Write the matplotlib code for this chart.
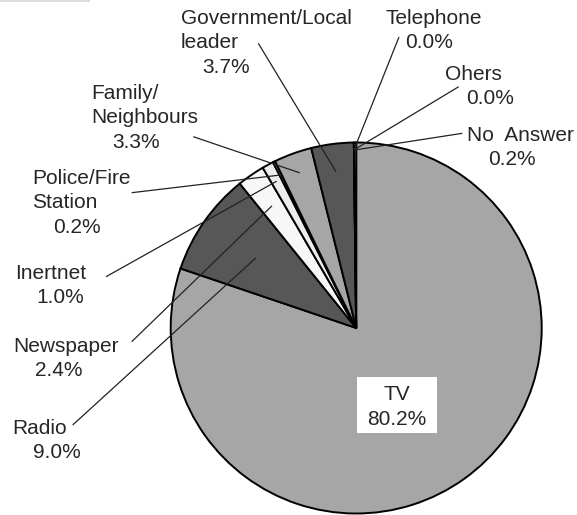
import matplotlib
matplotlib.use('Agg')
import matplotlib.pyplot as plt
from matplotlib.patches import Rectangle
import numpy as np

plt.rcParams['font.family'] = ['Liberation Sans', 'DejaVu Sans']

# shares of respondents by information source (%), clockwise from 12 o'clock
sources = ['TV', 'Radio', 'Newspaper', 'Inertnet', 'Police/Fire\nStation',
           'Family/\nNeighbours', 'Government/Local\nleader', 'Telephone',
           'Ohers', 'No  Answer']
shares = [80.2, 9.0, 2.4, 1.0, 0.2, 3.3, 3.7, 0.0, 0.0, 0.2]

colors = ['#a6a6a6', '#575757', '#f7f7f7', '#ececec', '#ffffff',
          '#a6a6a6', '#575757', '#a6a6a6', '#a6a6a6', '#a6a6a6']

W, H = 577, 515
CX, CY, R = 356.2, 328.0, 185.5   # pie centre / radius in pixels

def to_data(px, py):
    return (px - CX) / R, (CY - py) / R

# label layout (pixels): left x of each line, first baseline, leader start, leader end radius
label_layout = {
    'Radio':       dict(xs=[12.7, 33.3],         y0=434, start=(72.7, 425.0), rf=0.66),
    'Newspaper':   dict(xs=[13.3, 35.0],         y0=352, start=(131.7, 341.7), rf=0.80),
    'Inertnet':    dict(xs=[15.0, 36.7],         y0=279, start=(106.0, 276.7), rf=0.90),
    'Police/Fire\nStation':
                   dict(xs=[32.0, 32.0, 53.2],   y0=184, start=(131.7, 192.7), rf=0.92),
    'Family/\nNeighbours':
                   dict(xs=[91.4, 91.4, 112.3],  y0=99,  start=(193.3, 136.7), rf=0.89),
    'Government/Local\nleader':
                   dict(xs=[180.5, 180.5, 202.0], y0=24, start=(258.3, 43.3), rf=0.85),
    'Telephone':   dict(xs=[385.0, 405.0],       y0=24,  start=(399.0, 37.0), rf=0.96),
    'Ohers':       dict(xs=[445.0, 466.0],       y0=80,  start=(458.7, 86.7), rf=0.96),
    'No  Answer':  dict(xs=[467.0, 488.0],       y0=141, start=(462.4, 133.3), rf=0.96),
}
LINE_STEP = 24.3
text_color = '#262626'

fig = plt.figure(figsize=(W / 100, H / 100), dpi=100)
ax = fig.add_axes([(CX - R) / W, 1 - (CY + R) / H, 2 * R / W, 2 * R / H])

wedges, _ = ax.pie(shares, colors=colors, startangle=90, counterclock=False,
                   wedgeprops=dict(edgecolor='black', linewidth=1.4))
ax.set_xlim(-1, 1)
ax.set_ylim(-1, 1)
ax.set_aspect('auto')
ax.axis('off')

for name, val, w in zip(sources, shares, wedges):
    if name not in label_layout:
        continue
    lay = label_layout[name]
    lines = name.split('\n') + [f'{val:.1f}%']
    for i, (txt, x) in enumerate(zip(lines, lay['xs'])):
        tx, ty = to_data(x, lay['y0'] + i * LINE_STEP)
        ax.text(tx, ty, txt, ha='left', va='baseline', fontsize=15,
                color=text_color, clip_on=False)
    mid = np.deg2rad((w.theta1 + w.theta2) / 2)
    ex, ey = lay['rf'] * np.cos(mid), lay['rf'] * np.sin(mid)
    sx, sy = to_data(*lay['start'])
    ax.plot([sx, ex], [sy, ey], color='#222222', lw=0.9, clip_on=False,
            solid_capstyle='butt')

# TV label in a white box
bx0, by0 = to_data(356.7, 433.3)
bx1, by1 = to_data(437.0, 376.7)
ax.add_patch(Rectangle((bx0, by0), bx1 - bx0, by1 - by0, facecolor='white',
                       edgecolor='none', zorder=3))
for i, txt in enumerate([sources[0], f'{shares[0]:.1f}%']):
    tx, ty = to_data(397.0, 400.5 + i * LINE_STEP)
    ax.text(tx, ty, txt, ha='center', va='baseline', fontsize=15,
            color=text_color, zorder=4)

fig.add_artist(Rectangle((0, 1 - 2 / H), 90 / W, 2 / H, transform=fig.transFigure,
                         facecolor='#dddddd', edgecolor='none'))

fig.savefig('out.png', dpi=100)
